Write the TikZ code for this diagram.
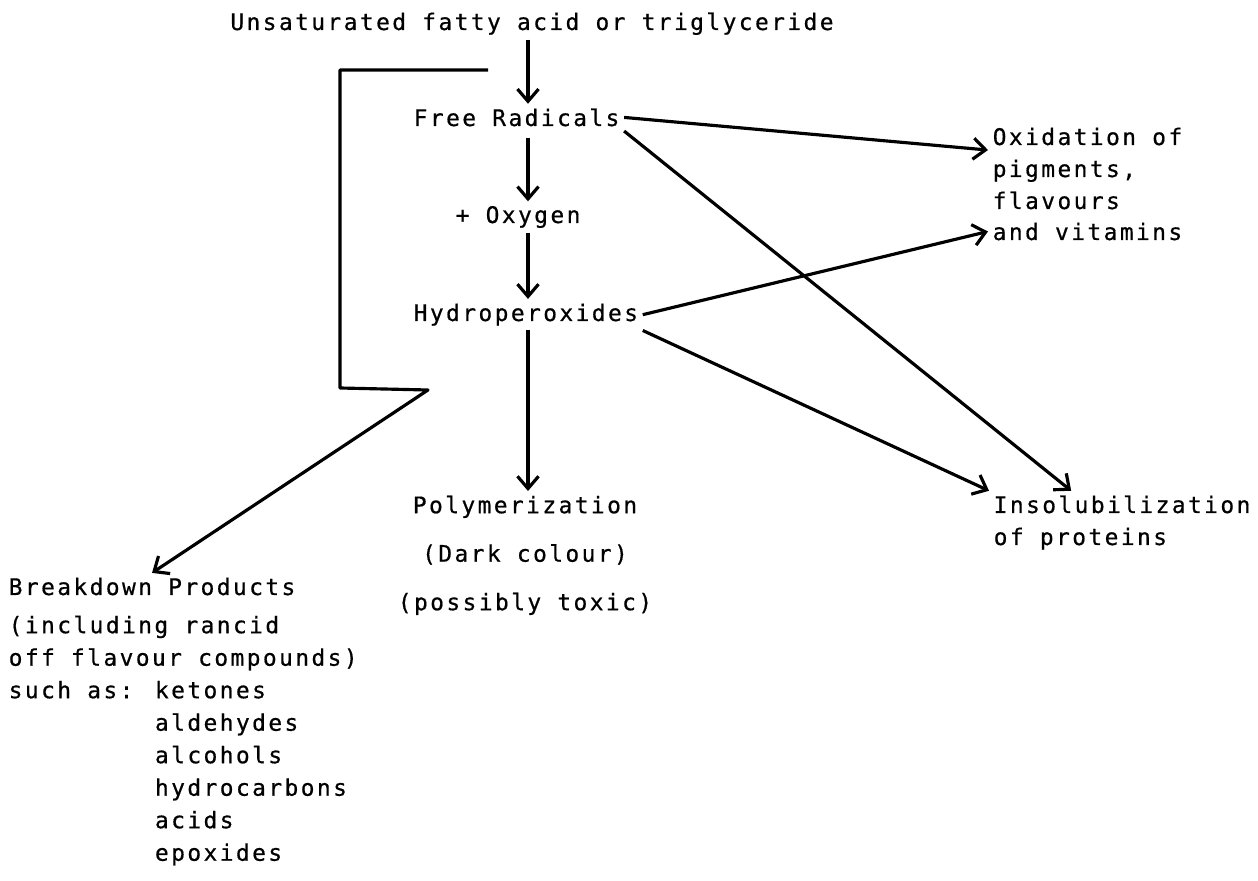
\documentclass[tikz,border=0pt]{standalone}
\usepackage{fontspec}
\newfontfamily\typefont[LetterSpace=10.7,FakeBold=0.6]{DejaVu Sans Mono}
\usetikzlibrary{arrows.meta,calc}

\tikzset{
	txt/.style={font=\typefont\fontsize{13}{18}\selectfont, inner sep=2.5pt},
	flow/.style={-{Straight Barb[length=7pt,width=12pt]}, line width=1.8pt},
}

\begin{document}
\begin{tikzpicture}[x=0.02cm,y=-0.02cm]
		\useasboundingbox (0,0) rectangle (1258,881);
		\coordinate (axis) at (528,0);
		% main chain
		\node[txt,anchor=base] (acid) at (532,30) {Unsaturated fatty acid or triglyceride};
		\node[txt,anchor=base west] (rad) at (409,126) {Free Radicals};
		\node[txt,anchor=base west] (oxy) at (451,223) {+ Oxygen};
		\node[txt,anchor=base west] (hyd) at (409,321) {Hydroperoxides};
		\node[txt,anchor=north,align=center,font=\typefont\fontsize{13}{27.6}\selectfont] (poly) at (525,491) {Polymerization\\(Dark colour)\\(possibly toxic)};
		% right side
		\node[txt,anchor=base west] (ox1) at (988,145) {Oxidation of};
		\node[txt,anchor=base west] (ox2) at (988,177) {pigments,};
		\node[txt,anchor=base west] (ox3) at (988,209) {flavours};
		\node[txt,anchor=base west] (ox4) at (988,240) {and vitamins};
		\node[txt,anchor=base west] (ins1) at (989,513) {Insolubilization};
		\node[txt,anchor=base west] (ins2) at (989,545) {of proteins};
		% left side
		\node[txt,anchor=base west] (brk) at (4,595) {Breakdown Products};
		\node[txt,anchor=north west,align=left,font=\typefont\fontsize{13}{18.5}\selectfont] (brklist) at (4,611) {(including rancid\\off flavour compounds)\\such as: ketones\\\phantom{such as: }aldehydes\\\phantom{such as: }alcohols\\\phantom{such as: }hydrocarbons\\\phantom{such as: }acids\\\phantom{such as: }epoxides};
		% arrows
		\draw[flow] (acid.south -| axis)--(rad.north -| axis);
		\draw[flow] ([yshift=-4pt]rad.south -| axis)--(oxy.north -| axis);
		\draw[flow] (oxy.south -| axis)--(hyd.north -| axis);
		\draw[flow] (hyd.south -| axis)--(poly.north -| axis);
		\draw[flow] (rad.east)--(ox1.south west);
		\draw[flow] (rad.south east)--(ins1.165);
		\draw[flow] (hyd.east)--(ox4.west);
		\draw[flow] (hyd.south east)--(ins1.north west);
		% bracket to breakdown products
		\coordinate (brtop) at (488,70);
		\coordinate (brleft) at (340,388);
		\coordinate (brkink) at (428,390);
		\draw[flow,line join=round] (brtop)-|(brleft)--(brkink)--(brk.north);
\end{tikzpicture}
\end{document}
